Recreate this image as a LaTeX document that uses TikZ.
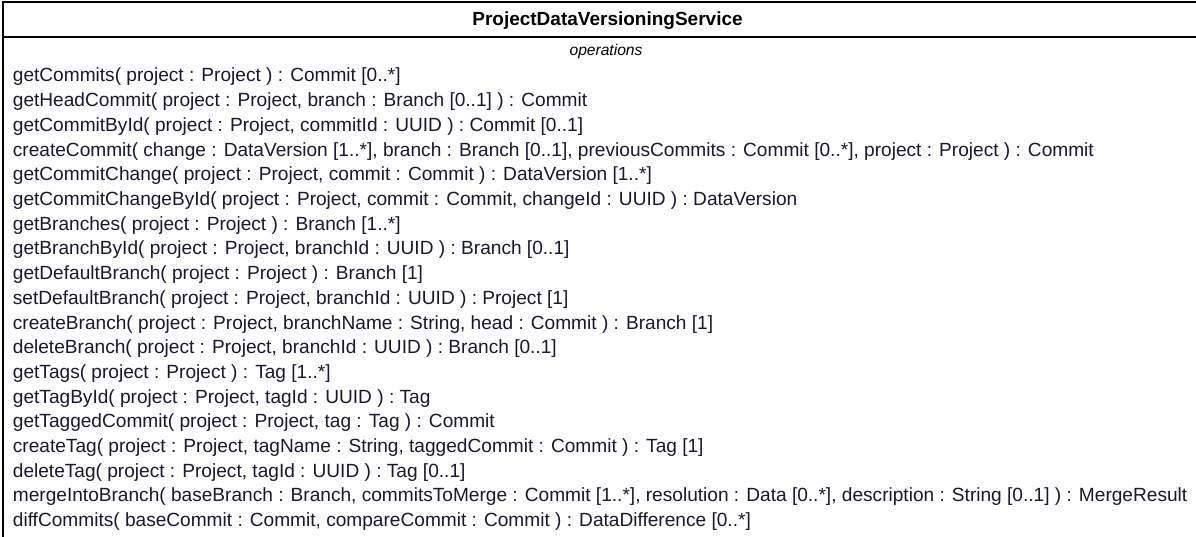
\documentclass[tikz,border=0pt]{standalone}
\usepackage{fontspec}
\setmainfont{Liberation Sans}
\definecolor{optext}{RGB}{24,24,48}
\begin{document}
\begin{tikzpicture}[x=1pt,y=-1pt,
  frame/.style={line width=2pt,draw=black},
  titletext/.style={font=\fontsize{19}{21}\selectfont\bfseries,text=black,inner sep=0pt,anchor=base},
  comptext/.style={font=\fontsize{15.6}{17}\selectfont\itshape,text=black,inner sep=0pt,anchor=base},
  optext/.style={font=\fontsize{19.1}{21}\selectfont,text=optext,inner sep=0pt,anchor=base west}]
\useasboundingbox (0,0) rectangle (1196,537);
\fill[white] (0,0) rectangle (1196,537);
\draw[frame] (2.5,537) -- (2.5,2.5) -- (1196,2.5);
\draw[frame] (2.5,37.5) -- (1196,37.5);
\node[titletext] (title) at (607.5,26) {ProjectDataVersioningService};
\node[comptext] (comp) at (606,56) {operations};
\foreach \t [count=\i from 0] in {
 {getCommits( project : Project ) : Commit [0..*]},
 {getHeadCommit( project : Project, branch : Branch [0..1] ) : Commit},
 {getCommitById( project : Project, commitId : UUID ) : Commit [0..1]},
 {createCommit( change : DataVersion [1..*], branch : Branch [0..1], previousCommits : Commit [0..*], project : Project ) : Commit},
 {getCommitChange( project : Project, commit : Commit ) : DataVersion [1..*]},
 {getCommitChangeById( project : Project, commit : Commit, changeId : UUID ) : DataVersion},
 {getBranches( project : Project ) : Branch [1..*]},
 {getBranchById( project : Project, branchId : UUID ) : Branch [0..1]},
 {getDefaultBranch( project : Project ) : Branch [1]},
 {setDefaultBranch( project : Project, branchId : UUID ) : Project [1]},
 {createBranch( project : Project, branchName : String, head : Commit ) : Branch [1]},
 {deleteBranch( project : Project, branchId : UUID ) : Branch [0..1]},
 {getTags( project : Project ) : Tag [1..*]},
 {getTagById( project : Project, tagId : UUID ) : Tag},
 {getTaggedCommit( project : Project, tag : Tag ) : Commit},
 {createTag( project : Project, tagName : String, taggedCommit : Commit ) : Tag [1]},
 {deleteTag( project : Project, tagId : UUID ) : Tag [0..1]},
 {mergeIntoBranch( baseBranch : Branch, commitsToMerge : Commit [1..*], resolution : Data [0..*], description : String [0..1] ) : MergeResult},
 {diffCommits( baseCommit : Commit, compareCommit : Commit ) : DataDifference [0..*]}}
 {\node[optext] (op\i) at (12.7,{82+24.7*\i}) {\t};}
\end{tikzpicture}
\end{document}
